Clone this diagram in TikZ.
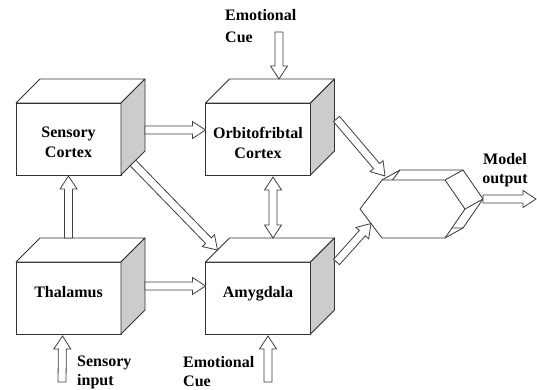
\documentclass[tikz,border=0pt]{standalone}
\usepackage{fontspec}
\setmainfont{Liberation Serif}
\usepackage{tikz}
\usetikzlibrary{calc,positioning}

\tikzset{
  cubeface/.style={draw=black!80, fill=white, line width=0.8pt, minimum width=105pt,
    minimum height=72pt, inner sep=0pt, outer sep=0pt},
  cubetext/.style={align=center, inner sep=0pt, font=\rmfamily\bfseries\fontsize{16}{20}\selectfont},
  cubeside/.style={draw=black!80, line width=0.8pt, line join=round},
  blockline/.style={draw=black!75, fill=white, line width=0.8pt, line join=miter},
  hexline/.style={draw=black!80, line width=0.8pt, line join=round},
  lbl/.style={align=left, inner sep=0pt, font=\rmfamily\bfseries\fontsize{16}{19}\selectfont}
}

\begin{document}
\begin{tikzpicture}[x=1pt, y=-1pt]
    \def\depth{24}
    % hollow block arrow, tail #1, tip #2
    \def\blockarrow#1#2{%
      \coordinate (ah) at ($(#2)!13pt!(#1)$);
      \draw[blockline] ($(#1)!4pt!90:(#2)$) -- ($(ah)!4pt!90:(#2)$) -- ($(ah)!8.5pt!90:(#2)$)
        -- (#2) -- ($(ah)!8.5pt!-90:(#2)$) -- ($(ah)!4pt!-90:(#2)$) -- ($(#1)!4pt!-90:(#2)$) -- cycle;}
    % hollow block arrow with two tips
    \def\blockdarrow#1#2{%
      \coordinate (ah) at ($(#2)!13pt!(#1)$);
      \coordinate (at) at ($(#1)!13pt!(#2)$);
      \draw[blockline] (#1) -- ($(at)!8.5pt!-90:(#1)$) -- ($(at)!4pt!-90:(#1)$)
        -- ($(ah)!4pt!90:(#2)$) -- ($(ah)!8.5pt!90:(#2)$) -- (#2)
        -- ($(ah)!8.5pt!-90:(#2)$) -- ($(ah)!4pt!-90:(#2)$)
        -- ($(at)!4pt!90:(#1)$) -- ($(at)!8.5pt!90:(#1)$) -- cycle;}

    \useasboundingbox[fill=white] (0,0) rectangle (537,390);

    % the four boxes
    \foreach \n/\x/\y/\dy/\t in {sc/68.5/139/3.5/{Sensory\\Cortex},
                                 ofc/258/139/3.5/{Orbitofribtal\\Cortex},
                                 th/68.5/298/-5.5/{Thalamus},
                                 am/258/298/-4/{Amygdala}}
    {
      \node[cubeface] (\n) at (\x,\y) {};
      \draw[cubeside, fill=white] (\n.north west) -- ++(\depth,-\depth) -- ++(105,0) -- (\n.north east) -- cycle;
      \draw[cubeside, fill=black!20] (\n.north east) -- ++(\depth,-\depth) -- ++(0,72) -- (\n.south east) -- cycle;
      \node[cubetext] (\n-txt) at ($(\n)+(0,\dy)$) {\t};
    }

    % output prism: back hexagon, side edges, front hexagon
    \coordinate (hx) at (413,209);
    \coordinate (hb) at (431,199);
    \draw[hexline] ($(hb)+(-53,0)$) -- ($(hb)+(-31,-29)$) -- ($(hb)+(32,-29)$) -- ($(hb)+(52,0)$)
      -- ($(hb)+(32,29)$) -- ($(hb)+(-31,29)$) -- cycle;
    \foreach \a/\b in {-31/-29, 32/-29, 52/0, 32/29}
      \draw[hexline] ($(hx)+(\a,\b)$) -- ($(hb)+(\a,\b)$);
    \draw[hexline, fill=white] ($(hx)+(-53,0)$) coordinate (hx-l) -- ($(hx)+(-31,-29)$) coordinate (hx-tl)
      -- ($(hx)+(32,-29)$) -- ($(hx)+(52,0)$) -- ($(hx)+(32,29)$)
      -- ($(hx)+(-31,29)$) coordinate (hx-bl) -- cycle;

    % arrow ends
    \coordinate (sc-r) at ($(sc.east)+(24,-9)$);
    \coordinate (ofc-l) at ($(ofc.west)+(0,-9)$);
    \coordinate (th-r) at ($(th.east)+(24,-12)$);
    \coordinate (am-l) at ($(am.west)+(0,-12)$);
    \coordinate (th-top) at ($(th.north)+(0,-24)$);
    \coordinate (sc-bot) at ($(sc.south)+(0,1)$);
    \coordinate (sc-diag) at ($(sc.south east)+(12,-12)$);
    \coordinate (am-diag) at ($(am.north west)+(12,-12)$);
    \coordinate (ofc-out) at ($(ofc.east)+(26,-20)$);
    \coordinate (am-out) at ($(am.east)+(26,-36)$);
    \coordinate (hx-in1) at ($(hx-tl)+(3,-4)$);
    \coordinate (hx-in2) at ($(hx-l)!0.5!(hx-bl)$);
    \coordinate (ofc-bot) at ($(ofc.south)+(15,2)$);
    \coordinate (am-top) at ($(am.north)+(15,-24)$);
    \coordinate (cue-in) at (279,32);
    \coordinate (ofc-top) at ($(ofc.north)+(21,-24)$);
    \coordinate (sens-in) at (62,382);
    \coordinate (th-bot) at ($(th.south)+(-6,2)$);
    \coordinate (cue2-in) at (268,382);
    \coordinate (am-bot) at ($(am.south)+(10,2)$);
    \coordinate (hx-r) at ($(hb)+(52,0)$);
    \coordinate (out) at (536,199);

    \blockarrow{sc-r}{ofc-l}
    \blockarrow{th-r}{am-l}
    \blockarrow{th-top}{sc-bot}
    \blockarrow{sc-diag}{am-diag}
    \blockarrow{ofc-out}{hx-in1}
    \blockarrow{am-out}{hx-in2}
    \blockdarrow{ofc-bot}{am-top}
    \blockarrow{cue-in}{ofc-top}
    \blockarrow{sens-in}{th-bot}
    \blockarrow{cue2-in}{am-bot}
    \blockarrow{hx-r}{out}

    % labels
    \node[lbl, anchor=north west, font=\rmfamily\bfseries\fontsize{16}{22}\selectfont] (cue-top) at (225,9) {Emotional\\Cue};
    \node[lbl, anchor=north west] (sens-lbl) at (77,356) {Sensory\\input};
    \node[lbl, anchor=north west] (cue-bot) at (183,356) {Emotional\\Cue};
    \node[lbl, anchor=north, align=center] (model-lbl) at (505,153) {Model\\output};
\end{tikzpicture}
\end{document}
